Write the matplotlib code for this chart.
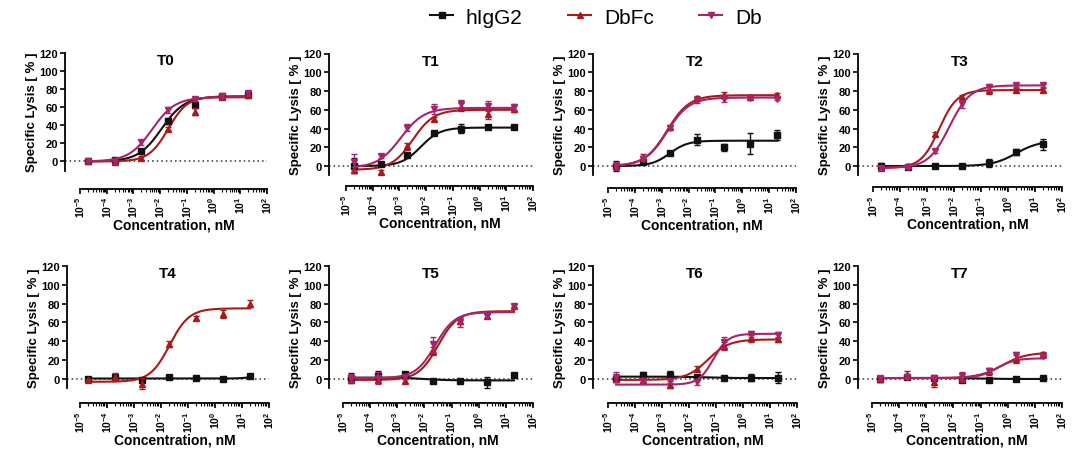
import numpy as np
import matplotlib
matplotlib.use("Agg")
import matplotlib.pyplot as plt
from matplotlib.lines import Line2D
from matplotlib.ticker import LogLocator, NullFormatter, FixedLocator, FixedFormatter

plt.rcParams['font.family'] = ['Liberation Sans', 'DejaVu Sans']
plt.rcParams['mathtext.fontset'] = 'custom'
plt.rcParams['mathtext.rm'] = 'Liberation Sans:bold'
plt.rcParams['mathtext.it'] = 'Liberation Sans:bold'
plt.rcParams['mathtext.bf'] = 'Liberation Sans:bold'

# ---------------- data ----------------
panels = ["T0", "T1", "T2", "T3", "T4", "T5", "T6", "T7"]
series_names = ["hIgG2", "DbFc", "Db"]
concentration_nM = [2e-5, 2e-4, 2e-3, 2e-2, 2e-1, 2, 20]
x_tick_values = [1e-5, 1e-4, 1e-3, 1e-2, 1e-1, 1e0, 1e1, 1e2]
x_tick_labels = [r"$10^{-5}$", r"$10^{-4}$", r"$10^{-3}$", r"$10^{-2}$",
                 r"$10^{-1}$", r"$10^{0}$", r"$10^{1}$", r"$10^{2}$"]
y_tick_values = [0, 20, 40, 60, 80, 100, 120]

higg2_lysis = [
    [0, 2, 12, 45, 62, 72, 73.5],
    [0.5, 2, 12, 35, 40, 42, 42],
    [0, 4, 14, 28, 20, 24, 33],
    [0, -1, 0, 0.5, 3, 15, 23],
    [0, 2, -1, 2, 1, 0.5, 3.5],
    [1, 3.5, 5, -2, -2, -3.5, 4],
    [0, 4, 4, 2, 1, 1.5, 1.5],
    [0, 2.5, 1, -1.5, -1, 0.5, 1.5],
]
higg2_err = [
    [1, 1.5, 2, 3, 3, 2, 2],
    [8, 1.5, 1.5, 1.5, 5, 1.5, 1.5],
    [5, 2, 1.5, 6, 4, 11, 5],
    [3, 1, 1, 1, 4, 3, 6],
    [1, 1, 1, 1, 1, 1, 2],
    [5, 5, 2, 1, 2, 6, 2],
    [2, 3, 4, 1, 2, 4, 6],
    [3, 2, 1, 1, 1, 1, 1],
]
dbfc_lysis = [
    [0, -1, 4, 36, 55, 71, 74],
    [-4, -6, 21, 50, 63, 55, 61],
    [0, 10, 42, 73, 76, 74, 76],
    [-2, 0, 34, 74, 81, 81, 81],
    [-1, 2, -5, 37, 65, 69, 80],
    [-1, -1, -2, 30, 62, 67, 78],
    [0, -1, -6, 11, 35, 43, 42],
    [0, 4, -3, 0, 8, 21, 27],
]
dbfc_err = [
    [1, 1, 2, 2, 4, 2, 2],
    [3, 2, 4, 2, 4, 5, 3],
    [2, 3, 2, 2, 3, 2, 2],
    [2, 1, 2, 2, 4, 2, 2],
    [1, 4, 6, 3, 2, 4, 4],
    [2, 2, 2, 4, 4, 2, 2],
    [2, 2, 4, 3, 4, 4, 3],
    [2, 4, 5, 3, 4, 4, 2],
]
db_lysis = [
    [0, 1, 21, 57, 69, 72, 76],
    [4, 11, 41, 61, 66, 64, 63],
    [0, 8, 41, 70, 72, 73, 72],
    [-2, -1, 16, 66, 84, 86, 86],
    None,
    [1, 1, 2, 37, 60, 67, 78],
    [2, -2, -2, -3, 39, 48, 47],
    [1, 2, 1, 3, 9, 25, 24],
]
db_err = [
    [1, 1, 3, 3, 2, 2, 2],
    [9, 2, 4, 5, 4, 5, 3],
    [4, 3, 2, 3, 4, 2, 2],
    [2, 1, 2, 4, 4, 2, 2],
    None,
    [4, 6, 2, 8, 5, 2, 2],
    [5, 2, 2, 3, 6, 3, 3],
    [2, 2, 2, 4, 3, 4, 2],
]
# fitted 4PL curves: [bottom, top, logEC50, hill]
higg2_fit = [
    [0, 72, -1.95, 1.0],
    [0, 41, -2.2, 1.2],
    [0, 27, -2.7, 1.3],
    [0, 27, 0.3, 1.0],
    [0.5, 6, 1.5, 2.0],
    [1.5, -1.5, -2.0, 1.0],
    [2.5, 1.0, -1.5, 1.0],
    [1.0, 0.0, -1.0, 1.0],
]
dbfc_fit = [
    [0, 72, -1.7, 1.2],
    [-4, 60, -2.5, 1.1],
    [0, 75.5, -2.8, 1.05],
    [-2, 81, -2.55, 1.3],
    [-3, 75, -1.68, 1.2],
    [-1, 72, -1.5, 1.2],
    [-1, 42, -1.3, 1.1],
    [1, 28, -0.2, 1.0],
]
db_fit = [
    [0, 71, -2.3, 1.0],
    [-2, 62, -2.95, 1.0],
    [0, 73, -2.8, 1.05],
    [-2, 86, -2.17, 1.12],
    None,
    [1, 71, -1.6, 1.2],
    [-6, 48, -1.1, 1.6],
    [1, 22, -0.4, 1.3],
]

# ---------------- style / layout ----------------
W, H = 1080, 460
colors = {"hIgG2": "#111111", "DbFc": "#A81A1A", "Db": "#A8246A"}
markers = {"hIgG2": "s", "DbFc": "^", "Db": "v"}
# (x_left, x_right, y_top, y_bottom, x-spine gap, y-spine gap) in pixels
panel_px = [
    (80, 267, 54, 171.5, 18, 15),
    (346, 533, 54.5, 176.4, 11, 17),
    (608, 796, 54.5, 176.4, 13, 15),
    (873, 1062, 54.5, 176.4, 12, 15),
    (80, 269, 267, 389.4, 15, 13),
    (343, 533, 267, 389.4, 15, 14),
    (608, 797, 267, 389.4, 15, 15),
    (872, 1062, 267, 389.4, 15, 14),
]
px2pt = 72.0 / 100.0

fig = plt.figure(figsize=(W / 100, H / 100), dpi=100)


def four_pl(x, p):
    b, t, ec, h = p
    return b + (t - b) / (1 + 10 ** ((ec - np.log10(x)) * h))


for i, name in enumerate(panels):
    xl, xr, yt, yb, gx, gy = panel_px[i]
    ax = fig.add_axes([xl / W, 1 - yb / H, (xr - xl) / W, (yb - yt) / H])
    ax.set_xscale("log")
    ax.set_xlim(1e-5, 1e2)
    ax.set_ylim(-10, 120)
    for s in ["top", "right"]:
        ax.spines[s].set_visible(False)
    ax.spines["left"].set_position(("outward", gy * px2pt))
    ax.spines["bottom"].set_position(("outward", gx * px2pt))
    for s in ["left", "bottom"]:
        ax.spines[s].set_linewidth(1.3)
    ax.xaxis.set_major_locator(FixedLocator(x_tick_values))
    ax.xaxis.set_major_formatter(FixedFormatter(x_tick_labels))
    ax.xaxis.set_minor_locator(LogLocator(base=10, subs=np.arange(2, 10), numticks=20))
    ax.xaxis.set_minor_formatter(NullFormatter())
    ax.set_yticks(y_tick_values)
    ax.tick_params(axis="both", which="major", length=3.5, width=1.2, labelsize=8, pad=1.5)
    ax.tick_params(axis="x", which="major", labelsize=7.5, pad=1.5)
    ax.tick_params(axis="x", which="minor", length=2, width=0.8)
    for lab in ax.get_xticklabels():
        lab.set_rotation(90)
    for lab in ax.get_yticklabels():
        lab.set_fontweight("bold")
    ax.set_ylabel("Specific Lysis [ % ]", fontsize=9.5, fontweight="bold", labelpad=1)
    ax.set_xlabel("Concentration, nM", fontsize=10, fontweight="bold", labelpad=0)

    # dotted zero line from y spine to end of axis
    off = -gy / (xr - xl)
    ax.plot([off, 1.0], [0, 0], transform=ax.get_yaxis_transform(), color="#333333",
            ls=(0, (1, 2)), lw=1.1, clip_on=False, zorder=1)

    ax.text(0.5 + off / 2, 1 - 7 / (yb - yt), name, transform=ax.transAxes,
            ha="center", va="center", fontsize=11, fontweight="bold")

    xs = np.logspace(np.log10(concentration_nM[0]), np.log10(concentration_nM[-1]), 300)
    sets = [("hIgG2", higg2_lysis[i], higg2_err[i], higg2_fit[i]),
            ("DbFc", dbfc_lysis[i], dbfc_err[i], dbfc_fit[i]),
            ("Db", db_lysis[i], db_err[i], db_fit[i])]
    for k, (sname, vals, errs, fit) in enumerate(sets):
        if vals is None:
            continue
        c = colors[sname]
        ax.plot(xs, four_pl(xs, fit), color=c, lw=1.5, zorder=3 + k)
        ax.errorbar(concentration_nM, vals, yerr=errs, fmt=markers[sname], color=c,
                    ms=5, capsize=2, elinewidth=1.0, capthick=1.0, zorder=4 + k,
                    clip_on=False)

handles = [Line2D([0], [0], color=colors[s], marker=markers[s], ms=5, lw=1.5) for s in series_names]
fig.legend(handles, series_names, loc="center", bbox_to_anchor=(596 / W, 1 - 18 / H), ncol=3,
           frameon=False, fontsize=15, handlelength=1.1, handletextpad=0.6, columnspacing=2.2)

fig.savefig("out.png", dpi=100)
